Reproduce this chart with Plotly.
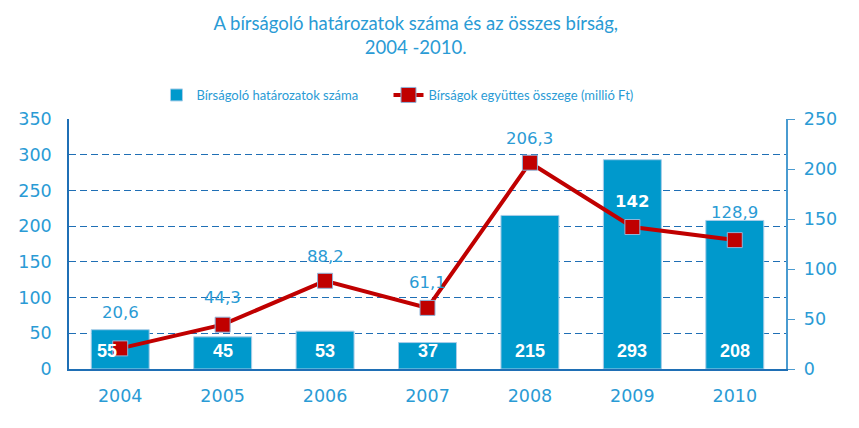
import plotly.graph_objects as go

years = [2004, 2005, 2006, 2007, 2008, 2009, 2010]
decisions = [55, 45, 53, 37, 215, 293, 208]
fines = [20.6, 44.3, 88.2, 61.1, 206.3, 142, 128.9]
fine_label_colors = ["#2A9BD5", "#2A9BD5", "#2A9BD5", "#2A9BD5", "#2A9BD5", "#FFFFFF", "#2A9BD5"]
fine_label_yshift = [36, 27, 24, 25, 24, 26, 28]
bar_label_xshift = [-13, 0, 0, 0, 0, 0, 0]

title_text = "A bírságoló határozatok száma és az összes bírság,<br>2004 -2010."
bar_name = "Bírságoló határozatok száma"
line_name = "Bírságok együttes összege (millió Ft)"

BLUE_TXT = "#2A9BD5"
BAR = "#0099CC"
RED = "#C00000"
GRID = "#1F6FB5"
NARROW = "Lato"

fig = go.Figure()
fig.add_trace(go.Bar(
    x=years, y=decisions, name=bar_name, legend="legend",
    marker=dict(color=BAR, line=dict(color="#A9CDE8", width=1)),
))
fig.add_trace(go.Scatter(
    x=years, y=fines, name=line_name, yaxis="y2", legend="legend2",
    mode="lines+markers",
    line=dict(color=RED, width=4),
    marker=dict(symbol="square", size=15, color=RED, line=dict(color="#8FB4D9", width=1)),
    cliponaxis=False,
))

annotations = []
for yr, v, dx in zip(years, decisions, bar_label_xshift):
    annotations.append(dict(
        x=yr, y=0, xref="x", yref="y", text="<b>" + str(v) + "</b>", showarrow=False,
        yanchor="bottom", yshift=6, xshift=dx,
        font=dict(family="Liberation Sans", size=18, color="white"),
    ))
for yr, v, c, dy in zip(years, fines, fine_label_colors, fine_label_yshift):
    lbl = f"{v:g}".replace(".", ",")
    if c == "#FFFFFF":
        lbl = "<b>" + lbl + "</b>"
    annotations.append(dict(
        x=yr, y=v, xref="x", yref="y2", text=lbl, showarrow=False,
        yanchor="middle", yshift=dy,
        font=dict(family="DejaVu Sans", size=16.5, color=c),
    ))

legend_font = dict(family=NARROW, size=13, color=BLUE_TXT)

fig.update_layout(
    width=859, height=428,
    margin=dict(l=69, r=73, t=119, b=59),
    paper_bgcolor="white", plot_bgcolor="white",
    title=dict(text=title_text, x=0.484, xanchor="center", y=0.93, yanchor="top",
               font=dict(family=NARROW, size=18.5, color=BLUE_TXT)),
    bargap=0.434,
    showlegend=True,
    legend=dict(orientation="h", x=0.122, xanchor="left", y=1.096, yanchor="middle",
                font=legend_font, bgcolor="rgba(0,0,0,0)"),
    legend2=dict(orientation="h", x=0.4456, xanchor="left", y=1.096, yanchor="middle",
                 font=legend_font, bgcolor="rgba(0,0,0,0)"),
    annotations=annotations,
    xaxis=dict(range=[2003.5, 2010.5], tickvals=years, showline=True, linecolor=GRID, linewidth=1.5,
               ticks="outside", ticklen=10, tickcolor="rgba(0,0,0,0)",
               tickfont=dict(family="DejaVu Sans", size=17.5, color=BLUE_TXT),
               showgrid=False, zeroline=False),
    yaxis=dict(range=[0, 350], dtick=50, showline=True, linecolor=GRID, linewidth=1.5,
               showgrid=True, gridcolor=GRID, griddash="7px,4px", gridwidth=1,
               zeroline=False, ticks="outside", ticklen=12, tickcolor="rgba(0,0,0,0)",
               tickfont=dict(family="DejaVu Sans", size=17.5, color=BLUE_TXT)),
    yaxis2=dict(range=[0, 250], dtick=50, overlaying="y", side="right",
                showline=True, linecolor="#4A9BD0", linewidth=1.5,
                ticks="outside", ticklen=7, tickcolor="#4A9BD0", tickprefix=" ",
                showgrid=False, zeroline=False,
                tickfont=dict(family="DejaVu Sans", size=17.5, color=BLUE_TXT)),
)

fig.write_html("out.html")
